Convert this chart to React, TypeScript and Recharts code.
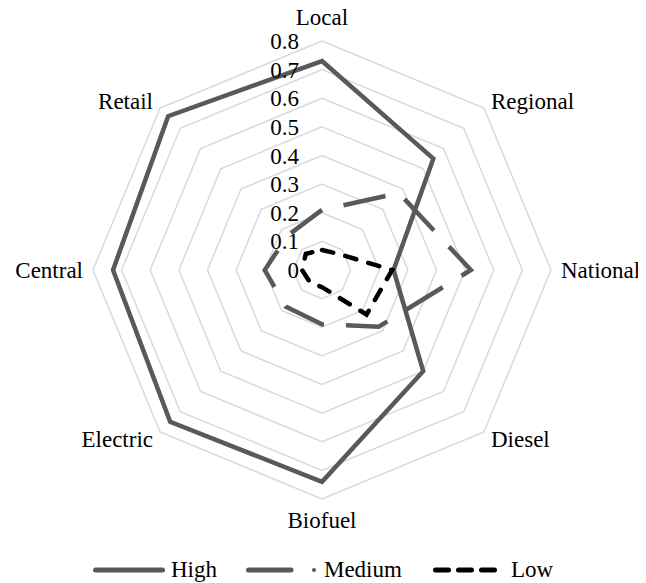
import React from "react";
import {
  RadarChart,
  Radar,
  PolarGrid,
  PolarAngleAxis,
  PolarRadiusAxis,
  Legend,
} from "recharts";

const categories = [
  "Local",
  "Regional",
  "National",
  "Diesel",
  "Biofuel",
  "Electric",
  "Central",
  "Retail",
];
const seriesNames = ["High", "Medium", "Low"];
const highValues = [0.73, 0.55, 0.25, 0.5, 0.74, 0.75, 0.73, 0.76];
const mediumValues = [0.21, 0.38, 0.52, 0.28, 0.19, 0.18, 0.2, 0.17];
const lowValues = [0.07, 0.08, 0.245, 0.22, 0.06, 0.06, 0.07, 0.08];
const radiusTicks = [0, 0.1, 0.2, 0.3, 0.4, 0.5, 0.6, 0.7, 0.8];

const chartData = categories.map((category, i) => ({
  category,
  High: highValues[i],
  Medium: mediumValues[i],
  Low: lowValues[i],
}));

const FONT = '"Liberation Serif", "Times New Roman", serif';
const CX = 322;
const CY = 270;
const R = 229;

function AngleTick(props: any) {
  const angle = props.payload.coordinate;
  const rad = (angle * Math.PI) / 180;
  const cos = Math.cos(rad);
  const sin = Math.sin(rad);
  const x = CX + (R + 10) * cos;
  const y = CY - (R + 10) * sin;
  const anchor = cos > 0.1 ? "start" : cos < -0.1 ? "end" : "middle";
  let dy = 8;
  if (sin > 0.9) dy = -6;
  if (sin < -0.9) dy = 19;
  return (
    <text
      x={x}
      y={y}
      dy={dy}
      textAnchor={anchor}
      fontFamily={FONT}
      fontSize={23}
      fill="#000"
    >
      {props.payload.value}
    </text>
  );
}

function RadiusTick(props: any) {
  const v = Number(props.payload.value);
  return (
    <text
      x={props.x - 23}
      y={props.y}
      dy={8}
      textAnchor="end"
      fontFamily={FONT}
      fontSize={23}
      fill="#000"
    >
      {String(Number(v.toFixed(1)))}
    </text>
  );
}

// legend samples, drawn per series
const legendIcons: Record<string, { width: number; gap: number; after: number }> = {
  High: { width: 72, gap: 6, after: 29 },
  Medium: { width: 70, gap: 8, after: 31 },
  Low: { width: 65, gap: 13, after: 0 },
};

function LegendIcon({ name, color }: { name: string; color: string }) {
  const w = legendIcons[name].width;
  if (name === "High") {
    return (
      <svg width={w} height={12}>
        <line x1={2.5} y1={6} x2={w - 2.5} y2={6} stroke={color} strokeWidth={5} strokeLinecap="round" />
      </svg>
    );
  }
  if (name === "Medium") {
    return (
      <svg width={w} height={12}>
        <line x1={2.5} y1={6} x2={45} y2={6} stroke={color} strokeWidth={5} strokeLinecap="round" />
        <circle cx={w - 2} cy={6} r={2} fill={color} />
      </svg>
    );
  }
  return (
    <svg width={w} height={12}>
      <line
        x1={2.5}
        y1={6}
        x2={w - 2.5}
        y2={6}
        stroke={color}
        strokeWidth={5}
        strokeLinecap="round"
        strokeDasharray="13 10"
      />
    </svg>
  );
}

function LegendContent(props: any) {
  const payload = [...(props.payload || [])].sort(
    (a: any, b: any) => seriesNames.indexOf(a.value) - seriesNames.indexOf(b.value)
  );
  return (
    <div
      style={{
        display: "flex",
        justifyContent: "center",
        alignItems: "center",
        fontFamily: FONT,
        fontSize: 23,
        color: "#000",
        height: 28,
      }}
    >
      {payload.map((entry: any) => {
        const cfg = legendIcons[entry.value];
        return (
          <div
            key={entry.value}
            style={{ display: "flex", alignItems: "center", marginRight: cfg.after }}
          >
            <LegendIcon name={entry.value} color={entry.color} />
            <span style={{ marginLeft: cfg.gap }}>{entry.value}</span>
          </div>
        );
      })}
    </div>
  );
}

export default function App() {
  return (
    <div style={{ marginTop: -8, marginLeft: -8 }}>
      <RadarChart
        width={646}
        height={583}
        data={chartData}
        cx={CX}
        cy={CY}
        outerRadius={R}
        margin={{ top: 0, right: 0, bottom: 0, left: 0 }}
      >
        <PolarGrid gridType="polygon" radialLines={false} stroke="#d9d9d9" strokeWidth={1.5} />
        <PolarAngleAxis dataKey="category" tick={AngleTick} tickLine={false} axisLine={false} />
        <PolarRadiusAxis
          angle={90}
          type="number"
          domain={[0, 0.8]}
          allowDataOverflow
          allowDecimals
          ticks={radiusTicks as any}
          tick={RadiusTick}
          axisLine={false}
          tickLine={false}
        />
        <Radar
          name="High"
          dataKey="High"
          stroke="#595959"
          strokeWidth={4.5}
          fill="none"
          fillOpacity={0}
          dot={false}
          isAnimationActive={false}
        />
        <Radar
          name="Medium"
          dataKey="Medium"
          stroke="#595959"
          strokeWidth={4.5}
          strokeDasharray="43 22"
          strokeDashoffset={43}
          fill="none"
          fillOpacity={0}
          dot={false}
          isAnimationActive={false}
        />
        <Radar
          name="Low"
          dataKey="Low"
          stroke="#000000"
          strokeWidth={4.5}
          strokeDasharray="11.5 12.5"
          strokeLinecap="round"
          fill="none"
          fillOpacity={0}
          dot={false}
          isAnimationActive={false}
        />
        <Legend
          content={LegendContent}
          wrapperStyle={{ position: "absolute", top: 556, left: 0, width: 646 }}
        />
      </RadarChart>
    </div>
  );
}
